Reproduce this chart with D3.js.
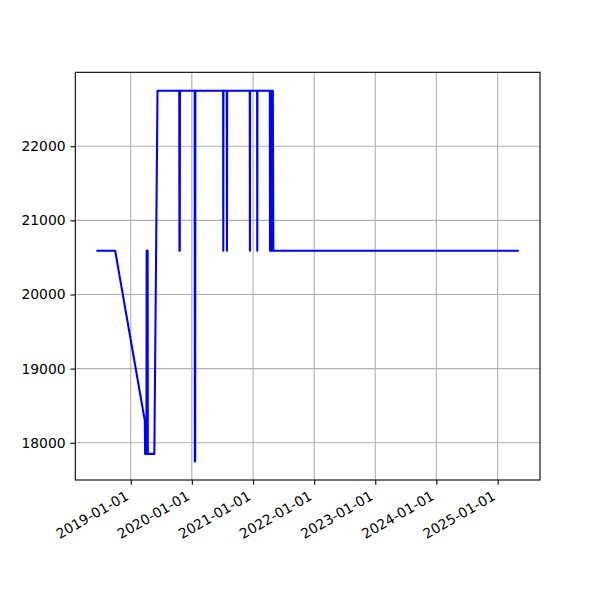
<!DOCTYPE html>
<html><head><meta charset="utf-8">
<script src="https://cdn.jsdelivr.net/npm/d3@7"></script>
<style>body{margin:0;background:#fff}svg{display:block}</style>
</head><body>
<script>
const dates = ["2018-06-10","2018-09-30","2019-03-26","2019-03-28","2019-04-05","2019-04-06","2019-04-07","2019-04-08","2019-04-09","2019-04-10","2019-04-11","2019-04-12","2019-04-13","2019-05-22","2019-06-10","2019-10-18","2019-10-19","2019-10-21","2019-10-22","2020-01-18","2020-01-19","2020-01-21","2020-01-22","2020-07-06","2020-07-07","2020-07-08","2020-07-28","2020-07-29","2020-07-30","2020-12-12","2020-12-13","2020-12-14","2021-01-25","2021-01-26","2021-01-27","2021-04-11","2021-04-12","2021-04-14","2021-04-17","2021-04-19","2021-04-22","2021-04-24","2021-04-27","2021-04-29","2021-05-02","2025-05-08"];
const values = [20590,20590,18300,17850,17850,20590,17850,20590,17850,20590,17850,20590,17850,17850,22747,22747,20590,20590,22747,22747,17748,17748,22747,22747,20590,22747,22747,20590,22747,22747,20590,22747,22747,20590,22747,22747,20590,22747,20590,22747,20590,22747,20590,22747,20590,20590];
const yTicks = [18000,19000,20000,21000,22000];
const xTickLabels = ["2019-01-01","2020-01-01","2021-01-01","2022-01-01","2023-01-01","2024-01-01","2025-01-01"];

const W = 600, H = 600;
const L = 75.3, R = 540, T = 72.3, B = 480;
const parse = d3.utcParse("%Y-%m-%d");
const fmt = d3.utcFormat("%Y-%m-%d");
const pts = dates.map((d,i)=>({x:parse(d), y:values[i]}));

const xExt = d3.extent(pts, d=>+d.x);
const xPad = (xExt[1]-xExt[0])*0.05;
const x = d3.scaleUtc().domain([new Date(xExt[0]-xPad), new Date(xExt[1]+xPad)]).range([L,R]);
const yExt = d3.extent(values);
const yPad = (yExt[1]-yExt[0])*0.05;
const y = d3.scaleLinear().domain([yExt[0]-yPad, yExt[1]+yPad]).range([B,T]);

const svg = d3.select("body").append("svg").attr("width",W).attr("height",H)
  .style("font-family","'DejaVu Sans'");
svg.append("rect").attr("width",W).attr("height",H).attr("fill","#fff");

const xTicks = xTickLabels.map(parse);
const grid = svg.append("g");
grid.selectAll(".gx").data(xTicks).join("line")
  .attr("x1",d=>x(d)).attr("x2",d=>x(d)).attr("y1",T).attr("y2",B)
  .attr("stroke","#b0b0b0").attr("stroke-width",1.1);
grid.selectAll(".gy").data(yTicks).join("line")
  .attr("x1",L).attr("x2",R).attr("y1",d=>y(d)).attr("y2",d=>y(d))
  .attr("stroke","#b0b0b0").attr("stroke-width",1.1);

svg.append("defs").append("clipPath").attr("id","clip").append("rect")
  .attr("x",L).attr("y",T).attr("width",R-L).attr("height",B-T);

svg.append("path").datum(pts)
  .attr("clip-path","url(#clip)")
  .attr("fill","none").attr("stroke","#0000ff").attr("stroke-width",2.08)
  .attr("stroke-linejoin","round").attr("stroke-linecap","butt")
  .attr("d", d3.line().x(d=>x(d.x)).y(d=>y(d.y)));

// axes
const xAxis = d3.axisBottom(x).tickValues(xTicks).tickFormat(fmt).tickSize(4.86).tickPadding(0);
const gx = svg.append("g").attr("transform",`translate(0,${B})`).call(xAxis);
gx.select(".domain").remove();
gx.selectAll(".tick line").attr("stroke","#000").attr("stroke-width",1.1);
const fs = 13.9, a = 0.76*fs, dsc = 0.24*fs;
const v0 = 0.75*a - 0.25*dsc, u0 = -0.433*(a+dsc);
gx.selectAll(".tick text")
  .attr("font-size",fs).attr("fill","#000").attr("font-family","'DejaVu Sans'")
  .attr("text-anchor","end").attr("dy",null).attr("y",null)
  .attr("transform",`translate(0,${4.86+4.86}) rotate(-30)`)
  .attr("x",u0).attr("y",v0);

const yAxis = d3.axisLeft(y).tickValues(yTicks).tickFormat(d3.format("d")).tickSize(4.86).tickPadding(4.86);
const gy = svg.append("g").attr("transform",`translate(${L},0)`).call(yAxis);
gy.select(".domain").remove();
gy.selectAll(".tick line").attr("stroke","#000").attr("stroke-width",1.1);
gy.selectAll(".tick text").attr("font-size",fs).attr("fill","#000").attr("font-family","'DejaVu Sans'");

svg.append("rect").attr("x",L).attr("y",T).attr("width",R-L).attr("height",B-T)
  .attr("fill","none").attr("stroke","#000").attr("stroke-width",1.1);
</script>
</body></html>
